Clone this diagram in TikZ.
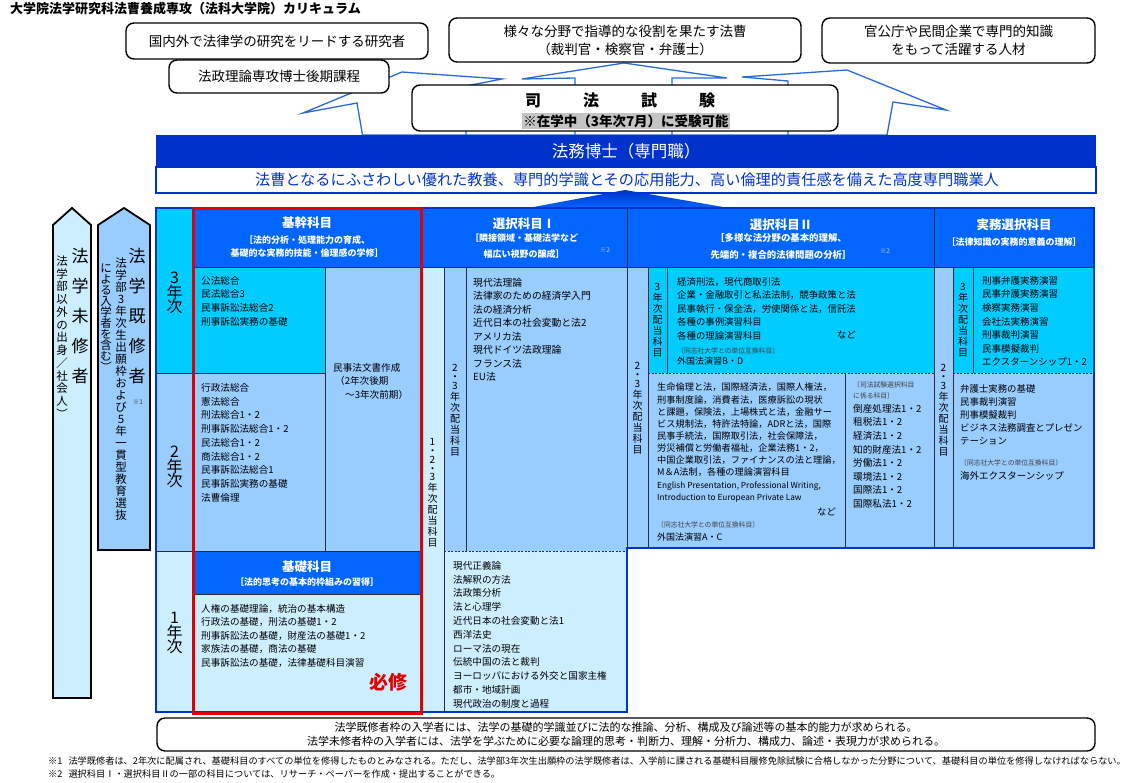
\documentclass[tikz,border=0pt]{standalone}
\usepackage{fontspec}
\setmainfont{Noto Sans CJK JP}
\definecolor{bandblue}{HTML}{0033CC}
\definecolor{hdrblue}{HTML}{0066FF}
\definecolor{cyanc}{HTML}{00CCFF}
\definecolor{midb}{HTML}{99CCFF}
\definecolor{pale}{HTML}{CCEEFF}
\definecolor{arrowc}{HTML}{2A6AD8}
\definecolor{gridc}{HTML}{2B2B40}
\definecolor{redb}{HTML}{E00000}
\definecolor{grayhl}{HTML}{C4C4C4}
\definecolor{notec}{HTML}{404040}
\definecolor{starc}{HTML}{C8C8FF}
\newcommand\fsz[2]{\fontsize{#1}{#2}\selectfont}
\ExplSyntaxOn
\NewDocumentCommand \vtxt { O{11pt} m }
  {
    \vbox:n
      {
        \baselineskip = #1 \scan_stop:
        \lineskip = 0pt \scan_stop:
        \lineskiplimit = -\maxdimen
        \tl_map_inline:nn {#2}
          {
            \str_if_eq:nnTF {##1} {・}
              {
                \skip_vertical:n { -0.2\baselineskip }
                \hbox_to_wd:nn {1em} { \hss ##1 \hss }
                \skip_vertical:n { -0.2\baselineskip }
              }
              { \hbox_to_wd:nn {1em} { \hss ##1 \hss } }
          }
      }
  }
\ExplSyntaxOff
\begin{document}
\begin{tikzpicture}[x=1pt,y=-1pt,
  topbox/.style={draw=black,line width=1.4pt,rounded corners=8pt,fill=white,inner sep=0pt,align=center,font=\fsz{13.5}{18}},
  lst/.style={anchor=north west,inner sep=0pt,align=left},
  lbl/.style={inner sep=0pt},
  htitle/.style={inner sep=0pt,text=white,font=\bfseries\fsz{12.5}{14}},
  hsub/.style={inner sep=0pt,text=white,align=center,font=\bfseries\fsz{9}{16}},
  starnote/.style={inner sep=0pt,text=starc,font=\fsz{6.5}{7}},
  smallnote/.style={inner sep=0pt,anchor=west,text=notec,font=\fsz{6.8}{8}},
  gridln/.style={draw=gridc,line width=0.6pt},
  dashln/.style={draw=gridc,line width=0.6pt,dash pattern=on 2pt off 1.5pt},
  vlab/.style={inner sep=0pt,font=\fsz{10}{10}},
  pent/.style={draw=black,line width=1.8pt}
]
\useasboundingbox (0,0) rectangle (1134,782);
\fill[white] (0,0) rectangle (1134,782);

% title
\node[anchor=west,inner sep=0pt,font=\bfseries\fsz{13}{13}] (title) at (10,9) {大学院法学研究科法曹養成専攻（法科大学院）カリキュラム};

% outline arrows
\draw[arrowc,line width=1.3pt,fill=white,line join=miter]
  (362.5,135) -- (357,103) -- (303,113) -- (402,72) -- (502,79) -- (466,86) -- (466,135)
  -- (575,135) -- (575,78) -- (522,79) -- (624,63) -- (727,78) -- (672,78) -- (672,135)
  -- (788,135) -- (788,81) -- (742,77) -- (847,70) -- (946,110) -- (893,102) -- (887,135) -- cycle;

% top boxes
\node[topbox,minimum width=302pt,minimum height=36pt] (res) at (277,41) {国内外で法律学の研究をリードする研究者};
\node[topbox,minimum width=352pt,minimum height=44pt] (hoso) at (625,40) {様々な分野で指導的な役割を果たす法曹\\（裁判官・検察官・弁護士）};
\node[topbox,minimum width=273pt,minimum height=45pt] (kan) at (958.5,40.5) {官公庁や民間企業で専門的知識\\をもって活躍する人材};
\node[topbox,minimum width=220pt,minimum height=33pt] (hakase) at (279,76.5) {法政理論専攻博士後期課程};
\node[topbox,minimum width=426pt,minimum height=46pt] (shiken) at (625,108) {};
\node[inner sep=0pt,font=\bfseries\fsz{16}{16}] (shikent) at (620,100) {司\hspace{42pt}法\hspace{42pt}試\hspace{42pt}験};
\node[fill=grayhl,inner sep=1pt,font=\bfseries\fsz{13.5}{14}] (zaigaku) at (626,121) {※在学中（3年次7月）に受験可能};

% band
\fill[bandblue] (156,135) rectangle (1096,167);
\draw[bandblue,line width=1.5pt,fill=white] (156,167) rectangle (1096,193);
\node[inner sep=0pt,text=white,font=\fsz{16.5}{17}] (jd) at (626,151) {法務博士（専門職）};
\node[inner sep=0pt,text=bandblue,font=\fsz{15.2}{16}] (jdsub) at (627,179.5) {法曹となるにふさわしい優れた教養、専門的学識とその応用能力、高い倫理的責任感を備えた高度専門職業人};

% solid arrow
\shade[top color=bandblue,bottom color=hdrblue] (528,208) -- (625,190) -- (729,208) -- cycle;

% ---------- table fills ----------
\fill[hdrblue] (193,208) rectangle (1094,267);
\fill[cyanc] (156,208) rectangle (193,373);
\fill[midb] (156,373) rectangle (193,551);
\fill[pale] (156,551) rectangle (193,712);
% kikan
\fill[cyanc] (193,267) rectangle (325,373);
\fill[midb] (193,373) rectangle (325,551);
\fill[midb] (325,267) rectangle (421,551);
\fill[hdrblue] (193,551) rectangle (421,594);
\fill[pale] (193,594) rectangle (421,712);
% sentaku I
\fill[pale] (421,267) rectangle (444,712);
\fill[midb] (444,267) rectangle (627,551);
\fill[pale] (444,551) rectangle (627,712);
% sentaku II
\fill[midb] (627,267) rectangle (648,548);
\fill[cyanc] (648,267) rectangle (934,373);
\fill[midb] (648,373) rectangle (934,548);
% jitsumu
\fill[midb] (934,267) rectangle (953,548);
\fill[cyanc] (953,267) rectangle (1094,373);
\fill[midb] (953,373) rectangle (1094,548);

% ---------- grid lines ----------
\draw[gridln] (193,208) -- (193,712);
\draw[gridln] (193,267) -- (1094,267);
\draw[gridln] (156,373) -- (325,373);
\draw[gridln] (156,551) -- (421,551);
\draw[gridln] (193,594) -- (421,594);
\draw[gridln] (325,267) -- (325,551);
\draw[gridln] (421,208) -- (421,712);
\draw[gridln] (444,267) -- (444,712);
\draw[gridln] (466,267) -- (466,551);
\draw[dashln] (444,551) -- (627,551);
\draw[gridln] (627,208) -- (627,548);
\draw[gridln] (648,267) -- (648,548);
\draw[gridln] (667,267) -- (667,373);
\draw[dashln] (648,373) -- (934,373);
\draw[gridln] (845,373) -- (845,548);
\draw[gridln] (934,208) -- (934,548);
\draw[gridln] (953,267) -- (953,548);
\draw[gridln] (973,267) -- (973,373);
\draw[dashln] (953,373) -- (1094,373);
\draw[bandblue,line width=1.8pt] (156,208) -- (1094,208) -- (1094,548) -- (627,548) -- (627,712) -- (156,712) -- cycle;

% ---------- year labels ----------
\node[lbl,font=\fsz{16}{16}] (y3) at (174.5,293) {\vtxt[14.5pt]{3年次}};
\node[lbl,font=\fsz{16}{16}] (y2) at (174.5,467) {\vtxt[14.5pt]{2年次}};
\node[lbl,font=\fsz{16}{16}] (y1) at (174.5,633) {\vtxt[14.5pt]{1年次}};

% ---------- headers ----------
\node[htitle] (hk) at (307,223) {基幹科目};
\node[hsub,font=\bfseries\fsz{9}{13.5}] (hks) at (307,246.5) {［法的分析・処理能力の育成、\\基礎的な実務的技能・倫理感の学修］};
\node[htitle] (h1) at (524,224) {選択科目Ⅰ};
\node[hsub] (h1s) at (524,246.5) {［隣接領域・基礎法学など\\幅広い視野の醸成］};
\node[starnote] (h1n) at (605,250) {※2};
\node[htitle] (h2) at (781,225) {選択科目Ⅱ};
\node[hsub,font=\bfseries\fsz{9.4}{16.5}] (h2s) at (781,246.5) {［多様な法分野の基本的理解、\\先端的・複合的法律問題の分析］};
\node[starnote] (h2n) at (885,251) {※2};
\node[htitle] (h3) at (1014,225) {実務選択科目};
\node[hsub] (h3s) at (1014,242) {［法律知識の実務的意義の理解］};

% ---------- kikan items ----------
\node[lst,font=\fsz{9.6}{13.7}] (k3) at (201,276) {公法総合\\民法総合3\\民事訴訟法総合2\\刑事訴訟実務の基礎};
\node[lst,font=\fsz{9.6}{13.75}] (k2) at (201,383) {行政法総合\\憲法総合\\刑法総合1・2\\刑事訴訟法総合1・2\\民法総合1・2\\商法総合1・2\\民事訴訟法総合1\\民事訴訟実務の基礎\\法曹倫理};
\node[lst,font=\fsz{9.6}{13.5}] (kbun) at (333,363) {民事法文書作成\\\hspace*{2pt}（2年次後期\\\hspace*{12pt}〜3年次前期）};
\node[htitle] (kiso) at (307,567) {基礎科目};
\node[hsub] (kisos) at (307,582) {［法的思考の基本的枠組みの習得］};
\node[lst,font=\fsz{9.6}{13.5}] (k1) at (201,604) {人権の基礎理論，統治の基本構造\\行政法の基礎，刑法の基礎1・2\\刑事訴訟法の基礎，財産法の基礎1・2\\家族法の基礎，商法の基礎\\民事訴訟法の基礎，法律基礎科目演習};
\node[inner sep=0pt,text=redb,font=\bfseries\fsz{19}{19}] (hisshu) at (388,682) {必修};

% ---------- sentaku I ----------
\node[vlab] (s1o) at (432.5,493) {\vtxt[11pt]{1・2・3年次配当科目}};
\node[vlab] (s1i) at (455,410) {\vtxt[11pt]{2・3年次配当科目}};
\node[lst,font=\fsz{9.8}{13.45}] (s1a) at (473,278) {現代法理論\\法律家のための経済学入門\\法の経済分析\\近代日本の社会変動と法2\\アメリカ法\\現代ドイツ法政理論\\フランス法\\EU法};
\node[lst,font=\fsz{9.6}{13.8}] (s1b) at (453,561) {現代正義論\\法解釈の方法\\法政策分析\\法と心理学\\近代日本の社会変動と法1\\西洋法史\\ローマ法の現在\\伝統中国の法と裁判\\ヨーロッパにおける外交と国家主権\\都市・地域計画\\現代政治の制度と過程};

% ---------- sentaku II ----------
\node[vlab] (s2o) at (637.5,408) {\vtxt[11pt]{2・3年次配当科目}};
\node[vlab] (s2i) at (657.5,320) {\vtxt[11pt]{3年次配当科目}};
\node[lst,font=\fsz{9.4}{13.5}] (s2a) at (677,277) {経済刑法，現代商取引法\\企業・金融取引と私法法制，競争政策と法\\民事執行・保全法，労使関係と法，信託法\\各種の事例演習科目\\各種の理論演習科目};
\node[inner sep=0pt,anchor=west,font=\fsz{9.4}{10}] (s2nado) at (837,335) {など};
\node[smallnote] (s2d1) at (677,351) {〔同志社大学との単位互換科目〕};
\node[inner sep=0pt,anchor=west,font=\fsz{9}{10}] (s2g1) at (677,361.5) {外国法演習B・D};
\node[lst,font=\fsz{9.2}{12.1}] (s2b) at (657,383) {生命倫理と法，国際経済法，国際人権法，\\刑事制度論，消費者法，医療訴訟の現状\\と課題，保険法，上場株式と法，金融サー\\ビス規制法，特許法特論，ADRと法，国際\\民事手続法，国際取引法，社会保障法，\\労災補償と労働者福祉，企業法務1・2，\\中国企業取引法，ファイナンスの法と理論，\\M＆A法制，各種の理論演習科目};
\node[lst,font=\fsz{8.3}{11.7}] (s2eng) at (657,482) {English Presentation, Professional Writing,\\Introduction to European Private Law};
\node[inner sep=0pt,anchor=west,font=\fsz{9.4}{10}] (s2nado2) at (817,512) {など};
\node[smallnote] (s2d2) at (657,525) {〔同志社大学との単位互換科目〕};
\node[inner sep=0pt,anchor=west,font=\fsz{9}{10}] (s2g2) at (657,537) {外国法演習A・C};
\node[lst,font=\fsz{6.8}{10.5},text=notec] (s2sh) at (853,381.5) {〔司法試験選択科目\\に係る科目〕};
\node[lst,font=\fsz{9.6}{13.6}] (s2c) at (853,404) {倒産処理法1・2\\租税法1・2\\経済法1・2\\知的財産法1・2\\労働法1・2\\環境法1・2\\国際法1・2\\国際私法1・2};

% ---------- jitsumu ----------
\node[vlab] (s3o) at (943.5,410) {\vtxt[11pt]{2・3年次配当科目}};
\node[vlab] (s3i) at (963,320) {\vtxt[11pt]{3年次配当科目}};
\node[lst,font=\fsz{9.5}{13.6}] (s3a) at (982,276) {刑事弁護実務演習\\民事弁護実務演習\\検察実務演習\\会社法実務演習\\刑事裁判演習\\民事模擬裁判\\エクスターンシップ1・2};
\node[lst,font=\fsz{9.4}{13.1}] (s3b) at (960,384) {弁護士実務の基礎\\民事裁判演習\\刑事模擬裁判\\ビジネス法務調査とプレゼン\\テーション};
\node[smallnote] (s3d) at (960,463) {〔同志社大学との単位互換科目〕};
\node[inner sep=0pt,anchor=west,font=\fsz{9.5}{10}] (s3g) at (960,475.5) {海外エクスターンシップ};

% red frame
\draw[redb,line width=3pt] (193,208) rectangle (421,713);

% ---------- entry pentagons ----------
\draw[pent,fill=pale] (53,698) -- (53,225) -- (72,208) -- (91,225) -- (91,698) -- cycle;
\draw[pent,fill=midb] (98,550) -- (98,225) -- (124,208) -- (150,225) -- (150,550) -- cycle;
\node[lbl,font=\fsz{17}{17}] (mishu) at (80,316) {\vtxt[30pt]{法学未修者}};
\node[lbl,font=\fsz{11.5}{12}] (mishu2) at (62,337) {\vtxt[12.75pt]{法学部以外の出身／社会人︶}};
\node[lbl,font=\fsz{17}{17}] (kishu) at (137,316) {\vtxt[30pt]{法学既修者}};
\node[lbl,font=\fsz{11.5}{12}] (kishu2) at (121,389) {\vtxt[12pt]{法学部3年次生出願枠および5年一貫型教育選抜}};
\node[lbl,font=\fsz{11.5}{12}] (kishu3) at (106,318) {\vtxt[11pt]{による入学者を含む︶}};
\node[inner sep=0pt,text=notec,font=\fsz{6.5}{7}] (kishun) at (138,402) {※1};

% ---------- bottom box ----------
\node[draw=black,line width=1.4pt,rounded corners=8pt,fill=white,minimum width=938pt,minimum height=33pt,inner sep=0pt] (botbox) at (626,734.5) {};
\node[inner sep=0pt,align=center,font=\fsz{11}{13.5}] (bottxt) at (626,734.5) {法学既修者枠の入学者には、法学の基礎的学識並びに法的な推論、分析、構成及び論述等の基本的能力が求められる。\\法学未修者枠の入学者には、法学を学ぶために必要な論理的思考・判断力、理解・分析力、構成力、論述・表現力が求められる。};

% footnotes
\node[inner sep=0pt,anchor=west,font=\fsz{9.2}{10}] (fn1) at (48,761) {※1\hspace{6pt}法学既修者は、2年次に配属され、基礎科目のすべての単位を修得したものとみなされる。ただし、法学部3年次生出願枠の法学既修者は、入学前に課される基礎科目履修免除試験に合格しなかった分野について、基礎科目の単位を修得しなければならない。};
\node[inner sep=0pt,anchor=west,font=\fsz{9.2}{10}] (fn2) at (48,774) {※2\hspace{6pt}選択科目Ⅰ・選択科目Ⅱの一部の科目については、リサーチ・ペーパーを作成・提出することができる。};
\end{tikzpicture}
\end{document}
